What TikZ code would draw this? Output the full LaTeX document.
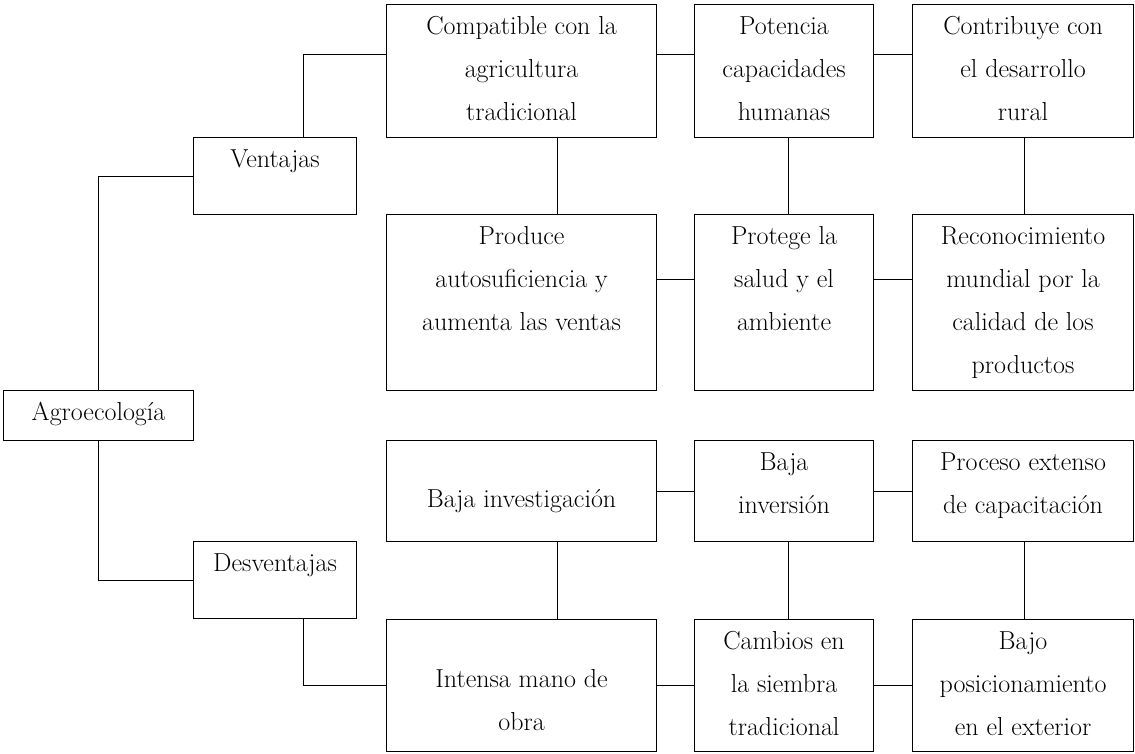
\documentclass[tikz,border=0pt]{standalone}
\usetikzlibrary{calc}
\newcommand{\bxt}[4][0pt]{\parbox[t][#3][t]{#2}{\centering\fontsize{26}{43}\selectfont\vspace*{#1}\strut #4}}
\tikzset{
  bx/.style={draw, line width=1.1pt, inner sep=0pt, anchor=north west},
  ln/.style={line width=1.1pt}
}
\begin{document}
\begin{tikzpicture}[x=1pt,y=-1pt]
\useasboundingbox (0,0) rectangle (1135,753);
% left column
\node[bx] (agro) at (3,390) {\bxt{190pt}{50pt}{Agroecología}};
\node[bx] (vent) at (193,137) {\bxt{163pt}{77pt}{Ventajas}};
\node[bx] (desv) at (193,541) {\bxt{163pt}{77pt}{Desventajas}};
% row 1
\node[bx] (a1) at (386,4) {\bxt{270pt}{133pt}{Compatible con la\\agricultura\\tradicional}};
\node[bx] (b1) at (694,4) {\bxt{179pt}{133pt}{Potencia\\capacidades\\humanas}};
\node[bx] (c1) at (912,4) {\bxt{221pt}{133pt}{Contribuye con\\el desarrollo\\rural}};
% row 2
\node[bx] (a2) at (386,214) {\bxt{270pt}{176pt}{Produce\\autosuficiencia y\\aumenta las ventas}};
\node[bx] (b2) at (694,214) {\bxt{179pt}{176pt}{Protege la\\salud y el\\ambiente}};
\node[bx] (c2) at (912,214) {\bxt{221pt}{176pt}{Reconocimiento\\mundial por la\\calidad de los\\productos}};
% row 3
\node[bx] (a3) at (386,440) {\bxt[37pt]{270pt}{101pt}{Baja investigación}};
\node[bx] (b3) at (694,440) {\bxt{179pt}{101pt}{Baja\\inversión}};
\node[bx] (c3) at (912,440) {\bxt{221pt}{101pt}{Proceso extenso\\de capacitación}};
% row 4
\node[bx] (a4) at (386,619) {\bxt[38pt]{270pt}{132pt}{Intensa mano de\\obra}};
\node[bx] (b4) at (694,619) {\bxt{179pt}{132pt}{Cambios en\\la siembra\\tradicional}};
\node[bx] (c4) at (912,619) {\bxt{221pt}{132pt}{Bajo\\posicionamiento\\en el exterior}};
% connectors: left
\draw[ln] (agro.north) |- (vent.west);
\draw[ln] (agro.south) |- (desv.west);
\draw[ln] ($(vent.north west)!0.675!(vent.north east)$) |- ($(a1.north west)!0.376!(a1.south west)$);
\draw[ln] ($(desv.south west)!0.675!(desv.south east)$) |- (a4.west);
% row 1 horizontals
\draw[ln] ($(a1.north east)!0.376!(a1.south east)$) -- ($(b1.north west)!0.376!(b1.south west)$);
\draw[ln] ($(b1.north east)!0.376!(b1.south east)$) -- ($(c1.north west)!0.376!(c1.south west)$);
% row 1 - row 2 verticals
\draw[ln] ($(a1.south west)!0.633!(a1.south east)$) -- ($(a2.north west)!0.633!(a2.north east)$);
\draw[ln] ($(b1.south west)!0.525!(b1.south east)$) -- ($(b2.north west)!0.525!(b2.north east)$);
\draw[ln] ($(c1.south west)!0.507!(c1.south east)$) -- ($(c2.north west)!0.507!(c2.north east)$);
% row 2 horizontals
\draw[ln] ($(a2.north east)!0.37!(a2.south east)$) -- ($(b2.north west)!0.37!(b2.south west)$);
\draw[ln] ($(b2.north east)!0.37!(b2.south east)$) -- ($(c2.north west)!0.37!(c2.south west)$);
% row 3 horizontals
\draw[ln] (a3.east) -- (b3.west);
\draw[ln] (b3.east) -- (c3.west);
% row 3 - row 4 verticals
\draw[ln] ($(a3.south west)!0.633!(a3.south east)$) -- ($(a4.north west)!0.633!(a4.north east)$);
\draw[ln] ($(b3.south west)!0.525!(b3.south east)$) -- ($(b4.north west)!0.525!(b4.north east)$);
\draw[ln] ($(c3.south west)!0.507!(c3.south east)$) -- ($(c4.north west)!0.507!(c4.north east)$);
% row 4 horizontals
\draw[ln] (a4.east) -- (b4.west);
\draw[ln] (b4.east) -- (c4.west);
\end{tikzpicture}
\end{document}
